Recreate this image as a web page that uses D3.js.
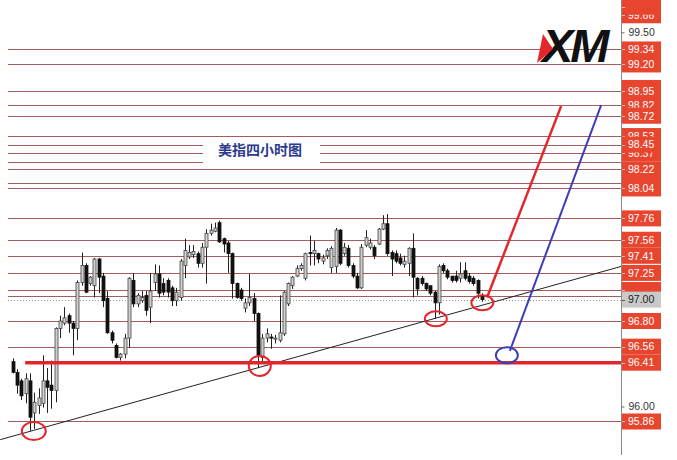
<!DOCTYPE html>
<html><head><meta charset="utf-8">
<script src="https://cdn.jsdelivr.net/npm/d3@7"></script>
<style>body{margin:0;background:#fff;overflow:hidden} svg{display:block}</style>
</head><body><svg id="c" width="677" height="460"></svg>
<script>
// ---- data (4-hour USD index candles) ----
const openP  = [96.42,96.32,96.24,96.12,96.24,95.94,96.01,96.03,96.24,96.20,96.15,96.73,96.78,96.85,96.78,96.73,97.16,97.32,97.15,97.13,97.38,97.22,97.01,96.69,96.57,96.46,96.49,96.64,97.18,96.96,96.99,97.04,96.93,97.16,97.24,97.15,97.18,97.11,96.99,97.02,97.32,97.40,97.42,97.43,97.34,97.49,97.62,97.64,97.72,97.57,97.53,97.43,97.15,97.09,96.92,96.97,97.01,96.87,96.46,96.64,96.65,96.63,96.62,96.68,96.96,97.13,97.22,97.29,97.20,97.44,97.43,97.43,97.36,97.41,97.30,97.31,97.65,97.43,97.48,97.32,97.22,97.11,97.51,97.49,97.49,97.52,97.66,97.71,97.44,97.43,97.39,97.33,97.34,97.48,97.20,97.20,97.15,97.13,97.07,96.97,97.32,97.27,97.22,97.22,97.20,97.27,97.22,97.20,97.18,97.03];
const highP  = [96.45,96.35,96.26,96.31,96.31,96.13,96.17,96.48,96.36,96.43,96.74,96.85,96.93,96.87,96.80,97.18,97.44,97.34,97.22,97.39,97.39,97.25,97.08,96.71,96.59,96.50,96.68,97.21,97.25,97.06,97.08,97.08,97.25,97.33,97.32,97.20,97.20,97.13,97.11,97.38,97.57,97.51,97.51,97.45,97.53,97.66,97.71,97.72,97.74,97.58,97.55,97.44,97.16,97.11,97.01,97.24,97.06,96.88,96.68,96.73,96.68,96.67,97.04,97.08,97.16,97.22,97.32,97.34,97.44,97.60,97.55,97.44,97.42,97.48,97.50,97.67,97.66,97.53,97.51,97.34,97.25,97.52,97.65,97.57,97.51,97.67,97.79,97.80,97.46,97.46,97.43,97.41,97.49,97.62,97.21,97.22,97.16,97.13,97.08,97.33,97.34,97.29,97.22,97.27,97.35,97.35,97.25,97.22,97.19,97.06];
const lowP   = [96.31,96.12,96.06,96.03,95.77,95.79,95.93,95.99,95.94,95.98,96.04,96.64,96.76,96.69,96.48,96.62,97.13,97.06,97.13,97.02,97.06,96.93,96.68,96.59,96.45,96.43,96.45,96.55,96.93,96.93,96.97,96.85,96.78,97.08,97.02,97.04,97.02,96.94,96.94,96.99,97.20,97.38,97.39,97.30,97.30,97.15,97.60,97.63,97.53,97.44,97.25,97.01,97.01,96.99,96.88,96.94,96.80,96.36,96.41,96.60,96.54,96.59,96.60,96.66,96.94,97.10,97.21,97.27,97.18,97.32,97.32,97.34,97.33,97.38,97.25,97.25,97.32,97.41,97.30,97.20,97.10,97.10,97.49,97.47,97.38,97.51,97.65,97.41,97.22,97.34,97.32,97.30,97.22,97.02,97.04,97.13,97.08,97.04,96.82,96.86,97.25,97.19,97.16,97.16,97.16,97.18,97.15,97.13,97.01,96.98];
const closeP = [96.32,96.20,96.10,96.26,95.90,96.04,96.08,96.24,96.18,96.15,96.73,96.80,96.83,96.78,96.73,97.16,97.32,97.07,97.21,97.38,97.21,96.99,96.69,96.62,96.46,96.49,96.64,97.20,96.96,97.04,97.02,96.90,97.08,97.24,97.06,97.07,97.07,96.99,97.07,97.36,97.46,97.44,97.45,97.34,97.49,97.62,97.65,97.67,97.54,97.52,97.43,97.15,97.02,97.01,96.97,97.02,96.87,96.48,96.64,96.68,96.64,96.64,96.69,97.07,97.15,97.21,97.29,97.32,97.43,97.43,97.46,97.38,97.39,97.46,97.48,97.65,97.34,97.49,97.32,97.22,97.11,97.49,97.58,97.53,97.41,97.66,97.71,97.43,97.38,97.36,97.34,97.36,97.48,97.21,97.10,97.15,97.10,97.06,96.97,97.31,97.27,97.21,97.18,97.18,97.24,97.20,97.17,97.15,97.06,97.00];

// horizontal resistance / support lines
const levelLines = [99.34,99.20,98.95,98.82,98.72,98.53,98.45,98.37,98.29,98.22,98.09,98.04,97.76,97.56,97.41,97.25,97.09,97.03,96.80,96.56,95.86];
// right-axis price boxes, in drawing order (texts hidden under later boxes are not written)
const labelLevels = [99.66,99.34,99.20,98.95,98.82,98.72,98.53,98.37,98.45,98.22,98.04,97.76,97.56,97.41,97.25,96.80,96.56,96.41,95.86];
const coveredBoxes = [99.74,98.98,98.09,97.09];
const currentPrice = 97.00;
const supportLevel = 96.41;
const axisTicks = [99.50, 96.00];
const title = "美指四小时图";

// annotations (candle index, price)
const trendLine  = [{i:-2.9,p:95.69},{i:141.3,p:97.31}];
const supportFrom = 2.9;
const redArrow   = [{i:110.2,p:97.02},{i:127.4,p:98.81}];
const blueArrow  = [{i:115.5,p:96.52},{i:136.7,p:98.82}];
const redCircles = [{i:4.9,p:95.77,rx:12,ry:9},{i:57.4,p:96.38,rx:11,ry:10},{i:98.3,p:96.82,rx:11,ry:7.5},{i:109.1,p:96.97,rx:11,ry:7.5}];
const blueCircles= [{i:114.8,p:96.48,rx:11,ry:8}];

// ---- drawing ----
const W = 677, H = 460, axisX = 621.5, plotLeft = 8;
const svg = d3.select("#c");
const x = d3.scaleLinear().domain([0, openP.length - 1]).range([12.7, 481.9]);
const y = d3.scaleLinear().domain([95.70, 99.80]).range([438.6, 0.3]);

svg.append("rect").attr("width", W).attr("height", H).attr("fill", "#fff");
const defs = svg.append("defs");
defs.append("clipPath").attr("id","plot").append("rect").attr("x",0).attr("y",0).attr("width",axisX).attr("height",H);
const g = svg.append("g").attr("clip-path","url(#plot)");

// level lines
g.selectAll("line.lvl").data(levelLines).join("line").attr("class","lvl")
  .attr("x1", plotLeft).attr("x2", axisX)
  .attr("y1", d => Math.round(y(d)) + 0.5).attr("y2", d => Math.round(y(d)) + 0.5)
  .attr("stroke", "#a65c5c").attr("stroke-width", 1);

// current price dotted line
g.append("line").attr("x1", plotLeft).attr("x2", axisX)
  .attr("y1", Math.round(y(currentPrice)) + 0.5).attr("y2", Math.round(y(currentPrice)) + 0.5)
  .attr("stroke", "#999").attr("stroke-dasharray", "1,2");

// title with white backing
const tg = svg.append("g");
tg.append("rect").attr("x", 203).attr("y", 139).attr("width", 117).attr("height", 24).attr("fill", "#fff");
tg.append("text").attr("x", 260).attr("y", 155).attr("text-anchor", "middle")
  .attr("font-family", "'Noto Sans CJK SC'").attr("font-weight", "bold").attr("font-size", 14)
  .attr("fill", "#2b3a8e").text(title);

// candles
const idx = d3.range(openP.length);
const cg = g.append("g");
cg.selectAll("line.wick").data(idx).join("line").attr("class","wick")
  .attr("x1", i => Math.round(x(i)) + 0.5).attr("x2", i => Math.round(x(i)) + 0.5)
  .attr("y1", i => y(highP[i])).attr("y2", i => y(lowP[i]))
  .attr("stroke", "#222").attr("stroke-width", 1);
cg.selectAll("rect.body").data(idx).join("rect").attr("class","body")
  .attr("x", i => Math.round(x(i)) - 1)
  .attr("y", i => y(Math.max(openP[i], closeP[i])))
  .attr("width", 3)
  .attr("height", i => Math.max(1, Math.abs(y(openP[i]) - y(closeP[i]))))
  .attr("fill", i => closeP[i] >= openP[i] ? "#d0d0d0" : "#111")
  .attr("stroke", i => closeP[i] >= openP[i] ? "#444" : "#111")
  .attr("stroke-width", 0.8);

// trend line
const lineGen = d3.line().x(d => x(d.i)).y(d => y(d.p));
g.append("path").datum(trendLine).attr("d", lineGen).attr("stroke", "#222").attr("stroke-width", 1).attr("fill", "none");

// support thick red line
g.append("line").attr("x1", x(supportFrom)).attr("x2", axisX)
  .attr("y1", y(supportLevel)).attr("y2", y(supportLevel))
  .attr("stroke", "#e3262b").attr("stroke-width", 3.5);

// arrows
g.append("path").datum(redArrow).attr("d", lineGen).attr("stroke", "#e3262b").attr("stroke-width", 2.5).attr("fill","none");
g.append("path").datum(blueArrow).attr("d", lineGen).attr("stroke", "#3b3fb6").attr("stroke-width", 2).attr("fill","none");

// circles
g.selectAll("ellipse.r").data(redCircles).join("ellipse").attr("class","r")
  .attr("cx", d => x(d.i)).attr("cy", d => y(d.p)).attr("rx", d => d.rx).attr("ry", d => d.ry)
  .attr("fill", "none").attr("stroke", "#e3262b").attr("stroke-width", 2);
g.selectAll("ellipse.b").data(blueCircles).join("ellipse").attr("class","b")
  .attr("cx", d => x(d.i)).attr("cy", d => y(d.p)).attr("rx", d => d.rx).attr("ry", d => d.ry)
  .attr("fill", "none").attr("stroke", "#3b3fb6").attr("stroke-width", 2);

// logo
const lg = svg.append("g");
lg.append("text").attr("x", 542).attr("y", 62)
  .attr("font-family", "'Liberation Sans', Arial").attr("font-weight", "bold").attr("font-style", "italic")
  .attr("font-size", 47).attr("letter-spacing", -3).attr("fill", "#111").text("XM");
lg.append("path").attr("d", "M543,34 L553,49 L537,63 Z").attr("fill", "#e3262b");

// right axis
svg.append("line").attr("x1", axisX).attr("x2", axisX).attr("y1", 0).attr("y2", 455)
  .attr("stroke", "#888").attr("stroke-width", 1);
const ax = svg.append("g").attr("transform", `translate(${axisX},0)`)
  .call(d3.axisRight(y).tickValues(axisTicks).tickSize(3).tickPadding(4).tickFormat(d3.format(".2f")));
ax.select(".domain").remove();
ax.selectAll("text").attr("font-family", "'Liberation Sans', Arial").attr("font-size", 10.5).attr("fill", "#333");
ax.selectAll("line").attr("stroke", "#666");

// price boxes
const fmt = d3.format(".2f");
const boxes = svg.append("g");
function box(v, grey, withText) {
  const yy = y(v);
  boxes.append("rect").attr("x", 622).attr("y", yy - 8).attr("width", 39).attr("height", 16)
    .attr("fill", grey ? "#c9c9c9" : "#e8452f");
  boxes.append("line").attr("x1", 622).attr("x2", 625).attr("y1", Math.round(yy) + 0.5).attr("y2", Math.round(yy) + 0.5)
    .attr("stroke", grey ? "#555" : "#f6c0b8");
  if (withText) boxes.append("text").attr("x", 628).attr("y", yy + 3.8)
    .attr("font-family", "'Liberation Sans', Arial").attr("font-size", 10.5)
    .attr("fill", grey ? "#222" : "#fff").text(fmt(v));
}
const order = labelLevels.map(v => ({v, t:true})).concat(coveredBoxes.map(v => ({v, t:false})));
// draw top-to-bottom in the reference's stacking: covered boxes first where they sit under neighbours
order.sort((a, b) => b.v - a.v);
// custom stacking tweaks: 98.45 over 98.37, covered boxes below their neighbours
const drawn = [];
const seq = [99.66,99.74,99.34,99.20,98.98,98.95,98.82,98.72,98.53,98.37,98.45,98.22,98.09,98.04,97.76,97.56,97.41,97.25,97.09];
seq.forEach(v => box(v, false, labelLevels.includes(v)));
box(currentPrice, true, true);
[96.80,96.56,96.41,95.86].forEach(v => box(v, false, true));
</script>
</body></html>
